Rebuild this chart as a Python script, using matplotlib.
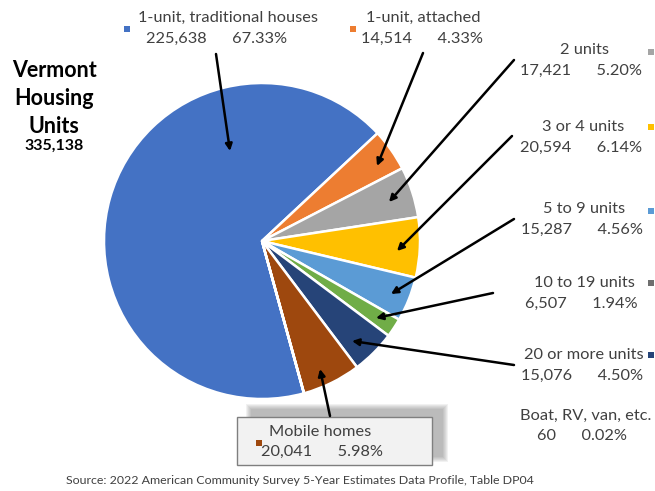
import matplotlib.pyplot as plt
from matplotlib.patches import Rectangle

plt.rcParams['font.family'] = ['Lato', 'DejaVu Sans']

# data (2022 ACS 5-year, Vermont housing units by structure type)
categories = ['1-unit, traditional houses', '1-unit, attached', '2 units', '3 or 4 units',
              '5 to 9 units', '10 to 19 units', '20 or more units', 'Mobile homes',
              'Boat, RV, van, etc.']
units = [225638, 14514, 17421, 20594, 15287, 6507, 15076, 20041, 60]
slice_colors = ['#4472C4', '#ED7D31', '#A5A5A5', '#FFC000', '#5B9BD5',
                '#70AD47', '#264478', '#9E480E', '#636363']
marker_colors = ['#4472C4', '#ED7D31', '#A5A5A5', '#FFC000', '#5B9BD5',
                 '#6F6F6F', '#264478', '#9E480E', None]
total = 335138

W, H = 655, 491


def Y(y):
    # pixel row (from top) -> data y
    return H - y


fig = plt.figure(figsize=(6.55, 4.91), dpi=100)
ax = fig.add_axes([0, 0, 1, 1])

cx, cy, rad = 262, 241, 158
first_edge = 43  # angle of the blue / orange boundary
start = first_edge + 360 * units[0] / sum(units)
ax.pie(units, colors=slice_colors, startangle=start, counterclock=False,
       center=(cx, Y(cy)), radius=rad,
       wedgeprops=dict(edgecolor='white', linewidth=1.8))
ax.set_xlim(0, W)
ax.set_ylim(0, H)
ax.set_aspect('auto')
ax.axis('off')

txt = '#404040'
fs = 11.8

# label layout: (line1 x, line1 y, line2 x, line2 y, marker x, marker y, arrow start, arrow end)
layout = [
    (228, 18, 217, 39, 127, 29, (216, 54), (230, 151)),
    (423, 18, 422, 39, 353, 29, (423, 53), (377, 166)),
    (584, 50, 581, 71, 651, 52, (514, 60), (389, 202)),
    (583, 127, 581, 148, 651, 127, (512, 136), (397, 251)),
    (584, 209, 582, 230, 651, 211, (514, 219), (391, 294)),
    (584, 283, 581, 304, 651, 283, (493, 293), (376, 318)),
    (584, 355, 582, 376, 651, 355, (514, 365), (352, 341)),
    (320, 432, 322, 452, 259, 443, (330, 416), (320, 369)),
    (586, 416, 582, 436, None, None, None, None),
]

# Mobile homes box with soft shadow
for k in range(6):
    g = 5 - k
    ax.add_patch(Rectangle((251 - g, Y(457) - g), 192 + 2 * g, 48 + 2 * g,
                           facecolor='#6a6a6a', edgecolor='none', alpha=0.09, zorder=3))
ax.add_patch(Rectangle((237, Y(465)), 195, 48, facecolor='#F2F2F2',
                       edgecolor='#7F7F7F', linewidth=1, zorder=4))

for i, (name, n) in enumerate(zip(categories, units)):
    x1, y1, x2, y2, mx, my, a0, a1 = layout[i]
    pct = 100 * n / total
    ax.text(x1, Y(y1), name, ha='center', va='center', fontsize=fs, color=txt, zorder=6)
    ax.text(x2, Y(y2), f'{n:,}      {pct:.2f}%', ha='center', va='center',
            fontsize=fs, color=txt, zorder=6)
    if mx is not None:
        ax.add_patch(Rectangle((mx - 3, Y(my) - 3), 6, 6, facecolor=marker_colors[i],
                               edgecolor='none', zorder=6))
    if a0 is not None:
        ax.annotate('', xy=(a1[0], Y(a1[1])), xytext=(a0[0], Y(a0[1])),
                    arrowprops=dict(arrowstyle='-|>', color='black', lw=1.8,
                                    mutation_scale=10, shrinkA=0, shrinkB=0),
                    zorder=5)

# title block
for s, yy in [('Vermont', 70), ('Housing', 98), ('Units', 126)]:
    ax.text(54, Y(yy), s, ha='center', va='center', fontsize=15.5,
            fontweight='bold', color='black')
ax.text(54, Y(146), f'{total:,}', ha='center', va='center', fontsize=11.5,
        fontweight='bold', color='black')

ax.text(300, Y(481), 'Source: 2022 American Community Survey 5-Year Estimates Data Profile, Table DP04',
        ha='center', va='center', fontsize=8.9, color=txt)

fig.savefig('out.png', dpi=100)
